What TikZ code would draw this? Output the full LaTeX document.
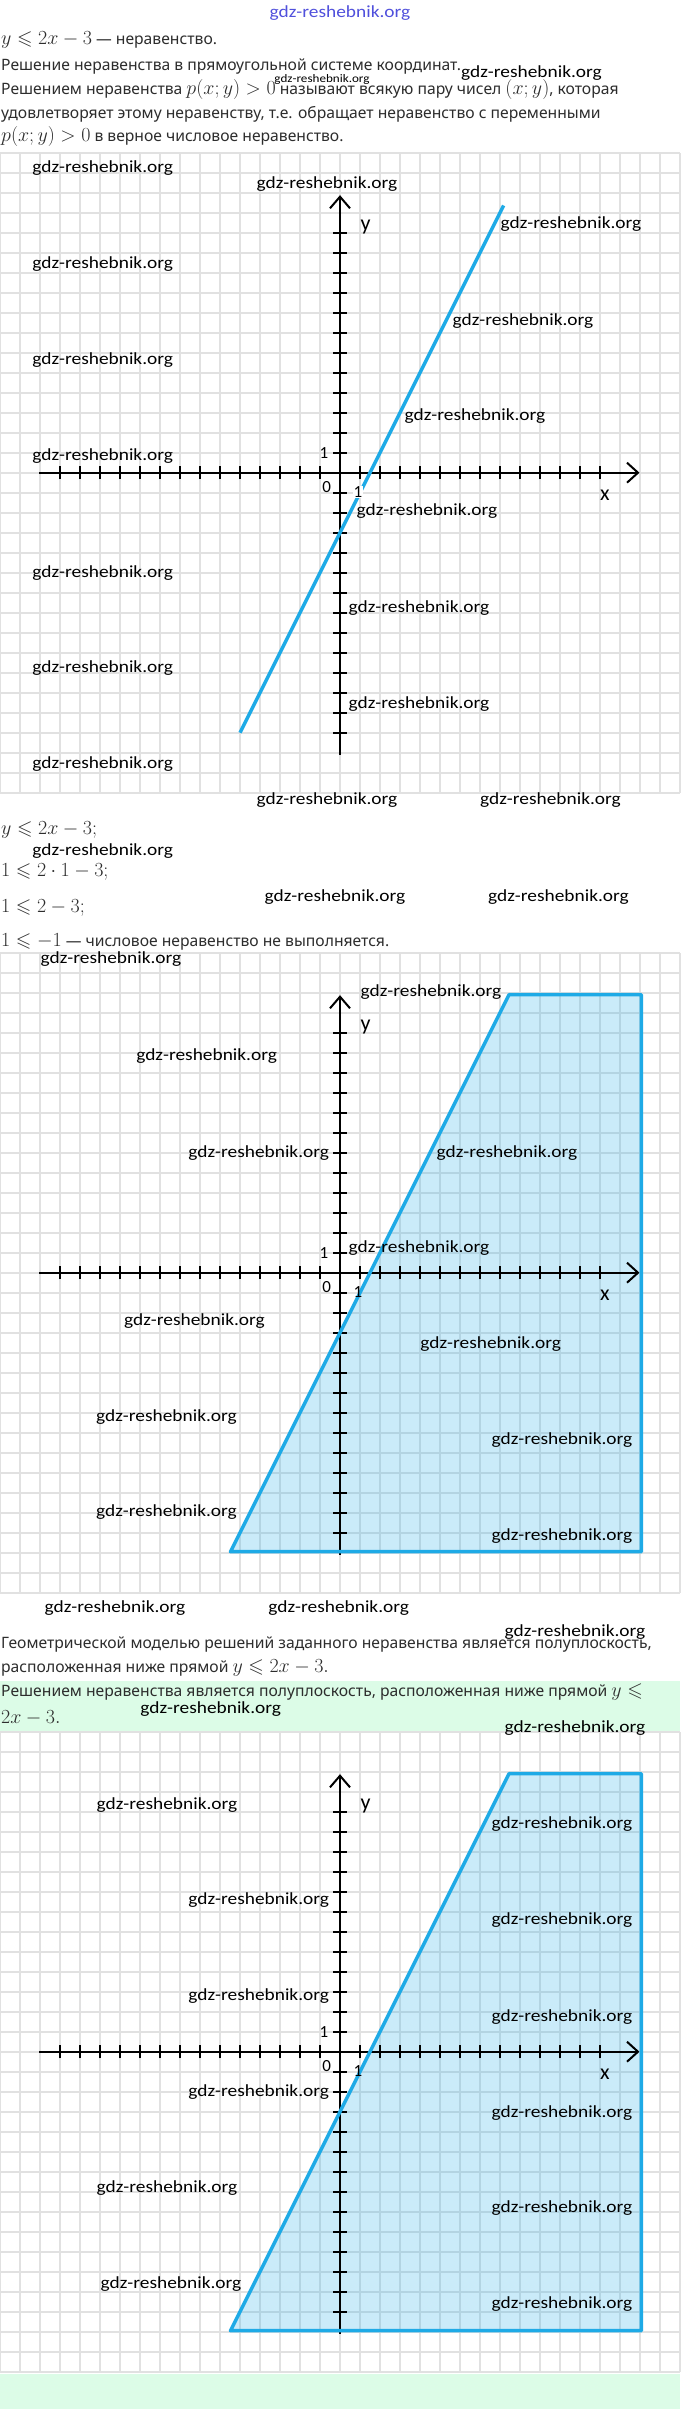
\RequirePackage{fix-cm}
\documentclass[tikz,border=0pt]{standalone}
\usepackage{amssymb}
\usepackage[no-math]{fontspec}
\setmainfont{Noto Sans}
\newfontfamily\wmf{Carlito}
\definecolor{txt}{RGB}{45,45,45}
\definecolor{gridc}{RGB}{225,225,225}
\definecolor{bluel}{RGB}{30,170,230}
\definecolor{greenb}{RGB}{220,252,231}
\definecolor{wmblue}{RGB}{80,80,220}
\newcommand\mth[1]{{\fontsize{20}{20}\selectfont$#1$}}
\newcommand\wmtext{\scalebox{1.14}[1]{gdz-reshebnik.org}}
\newcommand\gridset{%
  \foreach \i in {-17,...,17} \draw[gridline] (\i,-16) -- (\i,16);
  \foreach \j in {-16,...,16} \draw[gridline] (-17,\j) -- (17,\j);
}
\newcommand\axesset{%
  \draw[axisline] (-15.05,0) -- (14.9,0);
  \draw[axisline] (0,-14.1) -- (0,13.8);
  \draw[axisline] (14.35,0.5) -- (14.9,0) -- (14.35,-0.5);
  \draw[axisline] (-0.5,13.22) -- (0,13.8) -- (0.5,13.22);
  \foreach \i in {-14,...,-1,1,2,...,13} \draw[tickline] (\i,-0.33) -- (\i,0.33);
  \foreach \j in {-13,...,-1,1,2,...,12} \draw[tickline] (-0.33,\j) -- (0.33,\j);
}
\newcommand\labelsset[2]{%
  \node[axlab] (ya#1) at (-0.8,1) {1};
  \node[axlab] (o#1) at (-0.67,-0.72) {0};
  \node[axlab,#2] (xa#1) at (0.9,-0.95) {1};
  \node[axvar] (x#1) at (13.25,-1.15) {x};
  \node[axvar] (y#1) at (1.28,12.3) {y};
}
\begin{document}
\begin{tikzpicture}[x=1pt,y=-1pt,
  gridline/.style={draw=gridc,line width=1.6pt},
  axisline/.style={draw=black,line width=2pt},
  tickline/.style={draw=black,line width=2pt},
  blueline/.style={draw=bluel,line width=3.5pt,line join=round},
  bluefill/.style={fill=bluel,fill opacity=0.23},
  axlab/.style={font=\wmf\fontsize{17}{17}\selectfont,inner sep=0.6pt},
  axvar/.style={font=\wmf\fontsize{22}{22}\selectfont,inner sep=0pt},
  wm/.style={font=\wmf\fontsize{17}{17}\selectfont,inner sep=0pt,text=black},
  bodytext/.style={anchor=west,inner sep=0pt,font=\fontsize{15.7}{18}\selectfont,text=txt,text height=11pt,text depth=3.5pt}]
\useasboundingbox (0,0) rectangle (680,2409);
\fill[white] (0,0) rectangle (680,2409);
% green bands
\fill[greenb] (0,1681) rectangle (680,1733);
\fill[greenb] (0,2374) rectangle (680,2409);

% top text
\node[bodytext] (t1) at (1,41) {\mth{y \leqslant 2x-3} --- неравенство.};
\node[bodytext] (t2) at (1,67) {Решение неравенства в прямоугольной системе координат.};
\node[bodytext] (t3) at (1,91) {Решением неравенства \mth{p(x;y)>0} называют всякую пару чисел \mth{(x;y)}, которая};
\node[bodytext] (t4) at (1,115) {удовлетворяет этому неравенству, т.е. обращает неравенство с переменными};
\node[bodytext] (t5) at (1,138) {\mth{p(x;y)>0} в верное числовое неравенство.};

% graph 1
\begin{scope}[shift={(340,472.7)},x=20pt,y=20pt]
  \gridset
  \axesset
  \draw[blueline] (-5,-13) -- (8.18,13.36);
  \labelsset{a}{fill=white}
\end{scope}

\node[bodytext] (t6) at (1,831) {\mth{y \leqslant 2x-3;}};
\node[bodytext] (t7) at (1,873) {\mth{1 \leqslant 2\cdot 1-3;}};
\node[bodytext] (t8) at (1,909) {\mth{1 \leqslant 2-3;}};
\node[bodytext] (t9) at (1,943) {\mth{1 \leqslant -1} --- числовое неравенство не выполняется.};

% graph 2
\begin{scope}[shift={(340,1272.7)},x=20pt,y=20pt]
  \gridset
  \fill[bluefill] (-5.475,-13.95) -- (8.45,13.9) -- (15.07,13.9) -- (15.07,-13.95) -- cycle;
  \axesset
  \draw[blueline] (-5.475,-13.95) -- (8.45,13.9) -- (15.07,13.9) -- (15.07,-13.95) -- cycle;
  \labelsset{b}{}
\end{scope}

\node[bodytext] (t10) at (1,1645) {Геометрической моделью решений заданного неравенства является полуплоскость,};
\node[bodytext] (t11) at (1,1669) {расположенная ниже прямой \mth{y \leqslant 2x-3.}};
\node[bodytext] (t12) at (1,1693) {Решением неравенства является полуплоскость, расположенная ниже прямой \mth{y \leqslant}};
\node[bodytext] (t13) at (1,1720) {\mth{2x-3.}};

% graph 3
\begin{scope}[shift={(340,2051.7)},x=20pt,y=20pt]
  \gridset
  \fill[bluefill] (-5.475,-13.95) -- (8.45,13.9) -- (15.07,13.9) -- (15.07,-13.95) -- cycle;
  \axesset
  \draw[blueline] (-5.475,-13.95) -- (8.45,13.9) -- (15.07,13.9) -- (15.07,-13.95) -- cycle;
  \labelsset{c}{}
\end{scope}
\fill[greenb] (0,2374) rectangle (680,2409);

% watermarks
\node[wm,text=wmblue] (wtop) at (340,13) {\wmtext};
\node[wm] (wbig) at (531.5,73) {\wmtext};
\node[wm,font=\wmf\fontsize{11.5}{11.5}\selectfont] (wsmall) at (322,79) {\wmtext};
\foreach \xx/\yy [count=\k] in {102.7/168, 327/184, 571/224, 102.7/264, 523/321, 102.7/360, 475/416, 102.7/456, 427/511, 102.7/573, 419/608, 102.7/668, 419/704, 102.7/764, 327/800, 550.5/800,
102.7/851, 335/897, 558.5/897, 111/959,
431/992, 206.6/1056, 258.7/1153, 507/1153, 419/1248, 194.5/1321, 490.7/1344, 166.5/1417, 562/1440, 166.5/1512, 562/1536, 115/1608, 338.7/1608, 575/1632,
210.7/1709, 575/1728,
167/1805, 562/1824, 258.7/1900, 562/1920, 258.7/1996, 562/2017, 258.7/2092, 562/2113, 167/2188, 562/2208, 171/2284, 562/2304}
  \node[wm] (w\k) at (\xx,\yy) {\wmtext};
\end{tikzpicture}
\end{document}
